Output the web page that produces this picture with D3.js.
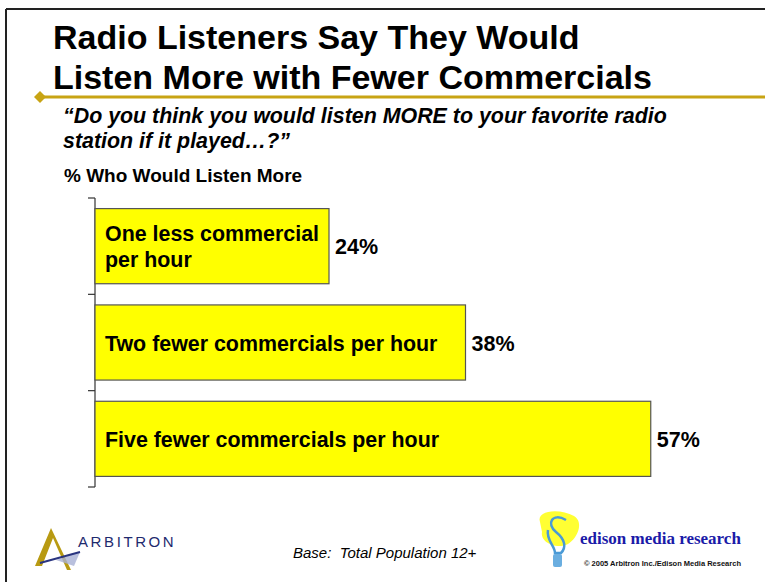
<!DOCTYPE html>
<html>
<head>
<meta charset="utf-8">
<script src="https://cdn.jsdelivr.net/npm/d3@7"></script>
<style>
  html, body { margin: 0; padding: 0; background: #fff; }
  svg { display: block; font-family: Arial, "Liberation Sans", sans-serif; }
</style>
</head>
<body>
<svg id="chart" width="765" height="582"></svg>
<script>
// Survey answers and shares of listeners who would listen more
const categories = [
  ["One less commercial", "per hour"],
  ["Two fewer commercials per hour"],
  ["Five fewer commercials per hour"]
];
const values = [24, 38, 57];
const valueLabels = ["24%", "38%", "57%"];

const titleLines = ["Radio Listeners Say They Would", "Listen More with Fewer Commercials"];
const questionLines = ["\u201cDo you think you would listen MORE to your favorite radio", "station if it played\u2026?\u201d"];
const measureLabel = "% Who Would Listen More";
const baseNote = "Base:\u00a0 Total Population 12+";

const svg = d3.select("#chart");

// Slide frame (top and left rules)
svg.append("line").attr("x1", 6).attr("x2", 765).attr("y1", 9).attr("y2", 9)
  .attr("stroke", "#222").attr("stroke-width", 2);
svg.append("line").attr("x1", 6).attr("x2", 6).attr("y1", 9).attr("y2", 582)
  .attr("stroke", "#222").attr("stroke-width", 2);

// Title
svg.append("text")
  .attr("font-size", 34).attr("font-weight", "bold").attr("fill", "#000")
  .selectAll("tspan").data(titleLines).join("tspan")
  .attr("x", 53).attr("y", (d, i) => 49 + i * 40).text(d => d);

// Gold rule with diamond
svg.append("line").attr("x1", 40).attr("x2", 765).attr("y1", 97).attr("y2", 97)
  .attr("stroke", "#c8a414").attr("stroke-width", 3);
svg.append("path").attr("d", "M40,91 L46,97 L40,103 L34,97 Z").attr("fill", "#c8a414");

// Question
svg.append("text").attr("font-size", 21.4).attr("font-weight", "bold").attr("font-style", "italic")
  .selectAll("tspan").data(questionLines).join("tspan")
  .attr("x", 63).attr("y", (d, i) => 123 + i * 25).text(d => d);

svg.append("text").attr("x", 64).attr("y", 182).attr("font-size", 19).attr("font-weight", "bold")
  .text(measureLabel);

// Bar chart
const x = d3.scaleLinear().domain([0, 60]).range([95, 680]);
const y = d3.scaleBand().domain(d3.range(categories.length)).range([198, 487]).paddingInner(0.22).paddingOuter(0.11);

// Category axis: ticks at band boundaries
const boundaries = d3.range(categories.length + 1).map(i => 198 + i * (289 / categories.length));
const axis = svg.append("g").attr("stroke", "#333").attr("stroke-width", 1.2);
axis.append("line").attr("x1", 95).attr("x2", 95).attr("y1", 198).attr("y2", 487);
axis.selectAll("line.tick").data(boundaries).join("line").attr("class", "tick")
  .attr("x1", 88).attr("x2", 95).attr("y1", d => d).attr("y2", d => d);

const bars = svg.append("g").selectAll("g").data(values).join("g");
bars.append("rect")
  .attr("x", x(0))
  .attr("y", (d, i) => y(i))
  .attr("width", d => x(d) - x(0))
  .attr("height", y.bandwidth())
  .attr("fill", "#ffff00")
  .attr("stroke", "#555").attr("stroke-width", 1.2);

bars.append("text")
  .attr("font-size", 21.4).attr("font-weight", "bold")
  .each(function(d, i) {
    const lines = categories[i];
    const cy = y(i) + y.bandwidth() / 2;
    const lh = 26;
    d3.select(this).selectAll("tspan").data(lines).join("tspan")
      .attr("x", 105)
      .attr("y", (l, j) => cy + (j - (lines.length - 1) / 2) * lh + 8)
      .text(l => l);
  });

bars.append("text")
  .attr("x", d => x(d) + 6)
  .attr("y", (d, i) => y(i) + y.bandwidth() / 2 + 8)
  .attr("font-size", 21.5).attr("font-weight", "bold")
  .text((d, i) => valueLabels[i]);

// Base note
svg.append("text").attr("x", 293).attr("y", 558).attr("font-size", 15).attr("font-style", "italic")
  .text(baseNote);

// Arbitron mark
const arb = svg.append("g");
arb.append("path").attr("d", "M51,528 L35,566 L42,566 L53,538 L67,570 L71,570 Z").attr("fill", "#b89a12");
arb.append("path").attr("d", "M56,560 L80,552 L74,566 Z").attr("fill", "#a8b0d4").attr("opacity", 0.8);
arb.append("line").attr("x1", 40).attr("y1", 563).attr("x2", 80).attr("y2", 552)
  .attr("stroke", "#2a3580").attr("stroke-width", 2);
arb.append("text").attr("x", 78).attr("y", 547).attr("font-size", 15).attr("letter-spacing", 2.6)
  .attr("fill", "#1e2a6e").text("ARBITRON");

// Edison mark
const ed = svg.append("g");
ed.append("path").attr("d", "M540,522 C536,510 560,508 574,516 C584,522 578,538 568,544 C556,550 540,542 542,532 Z")
  .attr("fill", "#ffff33");
ed.append("path").attr("d", "M566,520 C552,512 546,524 556,532 C566,540 566,548 561,553 L555,553 C555,546 546,540 548,530")
  .attr("fill", "none").attr("stroke", "#4a9ad6").attr("stroke-width", 2.5);
ed.append("rect").attr("x", 553).attr("y", 554).attr("width", 9).attr("height", 13).attr("rx", 2).attr("fill", "#6aaee0");
ed.append("text").attr("x", 580).attr("y", 544).attr("font-family", "'Liberation Serif', 'DejaVu Serif', serif")
  .attr("font-size", 17).attr("font-weight", "bold").attr("fill", "#1a1aa8").text("edison media research");
ed.append("text").attr("x", 584).attr("y", 566).attr("font-size", 7.5).attr("font-weight", "bold")
  .attr("fill", "#111").text("\u00a9 2005 Arbitron Inc./Edison Media Research");
</script>
</body>
</html>
